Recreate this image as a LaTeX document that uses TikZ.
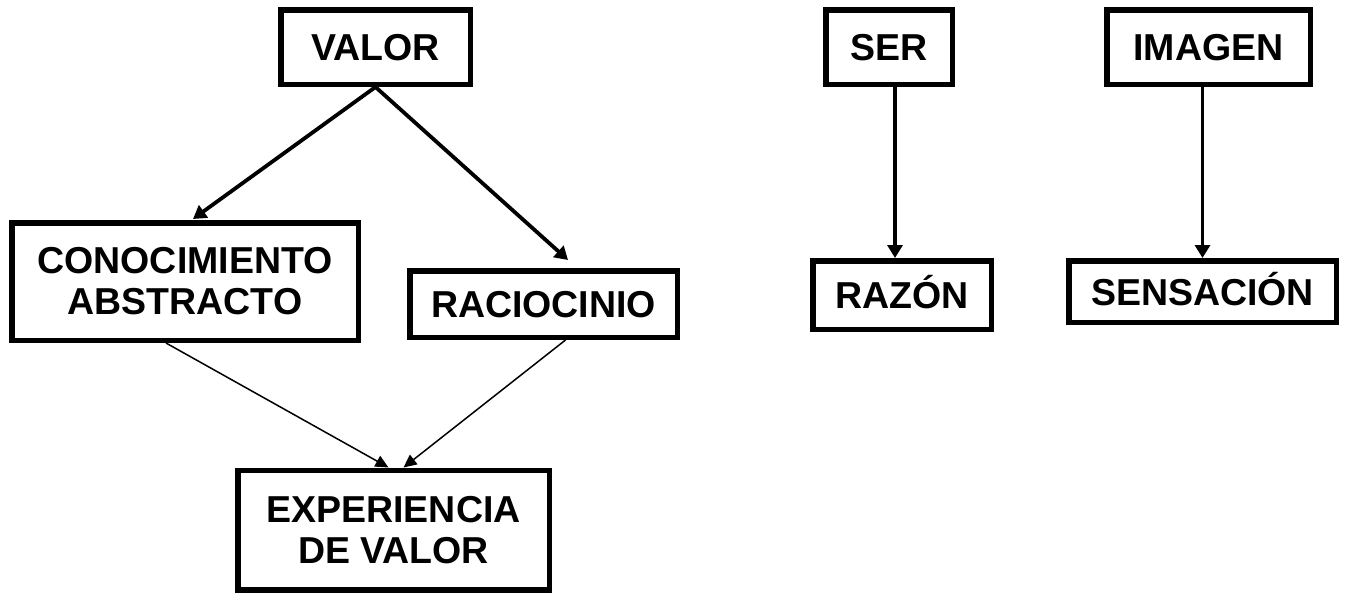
\documentclass[tikz,border=0pt]{standalone}
\usepackage{fontspec}
\setmainfont{Liberation Sans}
\usetikzlibrary{arrows.meta}

\begin{document}
\begin{tikzpicture}[x=1pt,y=-1pt,
  box/.style={draw,line width=5.5pt,inner sep=0pt,align=center,
    font=\fontsize{37.5}{41}\selectfont\bfseries},
  single/.style={text height=27pt,text depth=0pt},
  link/.style={-{Triangle[length=13pt,width=15pt]},line width=3.8pt},
  thinlink/.style={-{Triangle[length=13pt,width=12pt]},line width=1.5pt}]
  \useasboundingbox (0,0) rectangle (1349,597);
  % left tree
  \node[box,single,minimum width=189.5,minimum height=74.5] (valor) at (375.5,47) {VALOR};
  \node[box,minimum width=346.5,minimum height=117.5] (conoc) at (185,281.5) {CONOCIMIENTO\\ABSTRACTO};
  \node[box,single,minimum width=267.5,minimum height=66.5] (racio) at (543.5,304) {RACIOCINIO};
  \node[box,minimum width=311.5,minimum height=119.5] (exper) at (393.5,530) {EXPERIENCIA\\DE VALOR};
  % right pairs
  \node[box,single,minimum width=126.5,minimum height=74.5] (ser) at (889,47) {SER};
  \node[box,single,minimum width=178.5,minimum height=68.5] (razon) at (902,295) {RAZÓN};
  \node[box,single,minimum width=203.5,minimum height=74.5] (imagen) at (1208.5,47) {IMAGEN};
  \node[box,single,minimum width=267.5,minimum height=61.5] (sensa) at (1202.5,291.5) {SENSACIÓN};
  % arrows
  \draw[link] (valor.south) -- ([xshift=8pt,yshift=1pt]conoc.north);
  \draw[link] (valor.south) -- ([xshift=24.5pt,yshift=8pt]racio.north);
  \draw[thinlink] ([xshift=-19pt]conoc.south) -- ([xshift=-5pt]exper.north);
  \draw[thinlink] ([xshift=22pt]racio.south) -- ([xshift=10pt]exper.north);
  \draw[link] ([xshift=6pt]ser.south) -- ([xshift=6pt]ser.south |- razon.north);
  \draw[link] (sensa.north |- imagen.south) -- (sensa.north);
\end{tikzpicture}
\end{document}
